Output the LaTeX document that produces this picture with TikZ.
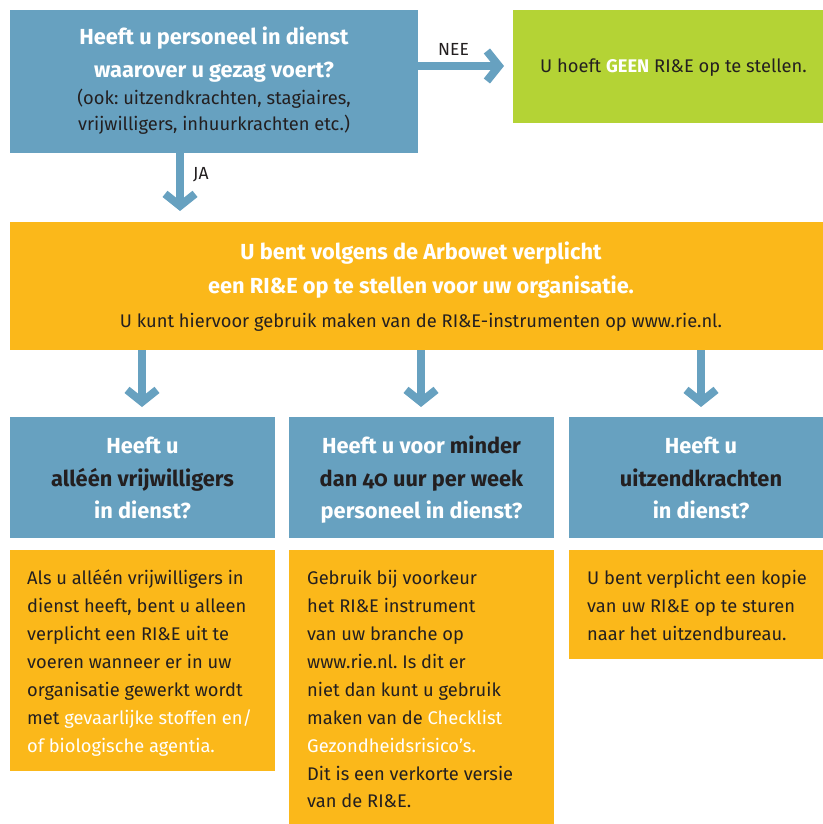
\documentclass[tikz,border=0pt]{standalone}
\usepackage{fontspec}
\setmainfont{Fira Sans}
\usetikzlibrary{arrows.meta}
\definecolor{qblue}{HTML}{67A1C0}
\definecolor{ora}{HTML}{FBB81A}
\definecolor{lime}{HTML}{B4D335}
\definecolor{ink}{HTML}{231F20}
\tikzset{
  boxbase/.style={draw=none, inner sep=0pt, anchor=north west},
  bluebox/.style={boxbase, fill=qblue},
  orabox/.style={boxbase, fill=ora},
  limebox/.style={boxbase, fill=lime},
  hd/.style={anchor=base, inner sep=0pt, font=\fontsize{21.8}{26}\selectfont\bfseries, text=white},
  hdk/.style={hd, text=ink},
  bd/.style={anchor=base west, inner sep=0pt, font=\fontsize{18.3}{22}\selectfont\frenchspacing, text=ink},
  bdc/.style={bd, anchor=base},
  lbl/.style={anchor=base west, inner sep=0pt, font=\fontsize{17.5}{20}\selectfont, text=ink},
  flow/.style={draw=qblue, line width=8pt, -{Straight Barb[length=12pt, width=30pt]}}
}
\newcommand{\wh}[1]{\textcolor{white}{#1}}
\newcommand{\dk}[1]{\textcolor{ink}{#1}}
\begin{document}
\begin{tikzpicture}[x=1pt, y=-1pt]
\useasboundingbox (0,0) rectangle (822,824);
% boxes
\node[bluebox, minimum width=408pt, minimum height=143pt] (q) at (10,10) {};
\node[limebox, minimum width=320pt, minimum height=113pt] (no) at (513,10) {};
\node[orabox, minimum width=822pt, minimum height=128pt] (must) at (10,222) {};
\node[bluebox, minimum width=265pt, minimum height=121pt] (qa) at (10,417) {};
\node[bluebox, minimum width=265pt, minimum height=121pt] (qb) at (289,417) {};
\node[bluebox, minimum width=265pt, minimum height=121pt] (qc) at (569,417) {};
\node[orabox, minimum width=265pt, minimum height=221pt] (aa) at (10,550) {};
\node[orabox, minimum width=265pt, minimum height=280pt] (ab) at (289,550) {};
\node[orabox, minimum width=265pt, minimum height=109pt] (ac) at (569,550) {};

% top question
\node[hd] (q1) at (214,45) {Heeft u personeel in dienst};
\node[hd] (q2) at (214,78) {waarover u gezag voert?};
\node[bdc] (q3) at (214,105) {(ook: uitzendkrachten, stagiaires,};
\node[bdc] (q4) at (214,131) {vrijwilligers, inhuurkrachten etc.)};

% no
\node[bdc] (n1) at (673.5,73) {U hoeft \textbf{\wh{GEEN}} RI\&E op te stellen.};

% must
\node[hd] (m1) at (421,259) {U bent volgens de Arbowet verplicht};
\node[hd] (m2) at (421,293) {een RI\&E op te stellen voor uw organisatie.};
\node[bdc] (m3) at (421,327) {U kunt hiervoor gebruik maken van de RI\&E-instrumenten op www.rie.nl.};

% question row
\node[hd] (a1) at (142.5,453) {Heeft u};
\node[hdk] (a2) at (142.5,486) {alléén vrijwilligers};
\node[hd] (a3) at (142.5,518) {in dienst?};
\node[hd] (b1) at (421.5,453) {Heeft u voor \dk{minder}};
\node[hdk] (b2) at (421.5,486) {dan {\addfontfeatures{Numbers=OldStyle}40} uur per week};
\node[hd] (b3) at (421.5,518) {personeel in dienst?};
\node[hd] (c1) at (701,453) {Heeft u};
\node[hdk] (c2) at (701,486) {uitzendkrachten};
\node[hd] (c3) at (701,518) {in dienst?};

% answer left
\node[bd] (la1) at (27,584) {Als u alléén vrijwilligers in};
\node[bd] (la2) at (27,612) {dienst heeft, bent u alleen};
\node[bd] (la3) at (27,640) {verplicht een RI\&E uit te};
\node[bd] (la4) at (27,668) {voeren wanneer er in uw};
\node[bd] (la5) at (27,696) {organisatie gewerkt wordt};
\node[bd] (la6) at (27,724) {met \wh{gevaarlijke stoffen en/}};
\node[bd] (la7) at (27,752) {\wh{of biologische agentia.}};

% answer middle
\node[bd] (lb1) at (307,584) {Gebruik bij voorkeur};
\node[bd] (lb2) at (307,612) {het RI\&E instrument};
\node[bd] (lb3) at (307,640) {van uw branche op};
\node[bd] (lb4) at (307,668) {www.rie.nl. Is dit er};
\node[bd] (lb5) at (307,696) {niet dan kunt u gebruik};
\node[bd] (lb6) at (307,724) {maken van de \wh{Checklist}};
\node[bd] (lb7) at (307,752) {\wh{Gezondheidsrisico’s.}};
\node[bd] (lb8) at (307,780) {Dit is een verkorte versie};
\node[bd] (lb9) at (307,807) {van de RI\&E.};

% answer right
\node[bd] (lc1) at (587,584) {U bent verplicht een kopie};
\node[bd] (lc2) at (587,612) {van uw RI\&E op te sturen};
\node[bd] (lc3) at (587,640) {naar het uitzendbureau.};

% connectors
\coordinate (neeEnd) at (504,66);
\coordinate (jaEnd) at (180,211);
\coordinate (aEnd) at (142,407);
\coordinate (bEnd) at (421,407);
\coordinate (cEnd) at (701,407);
\draw[flow] (q.east |- neeEnd) -- (neeEnd);
\draw[flow] (q.south -| jaEnd) -- (jaEnd);
\draw[flow] (must.south -| aEnd) -- (aEnd);
\draw[flow] (must.south -| bEnd) -- (bEnd);
\draw[flow] (must.south -| cEnd) -- (cEnd);
\node[lbl] (nee) at (438,56) {NEE};
\node[lbl] (ja) at (193,179) {JA};
\end{tikzpicture}
\end{document}
